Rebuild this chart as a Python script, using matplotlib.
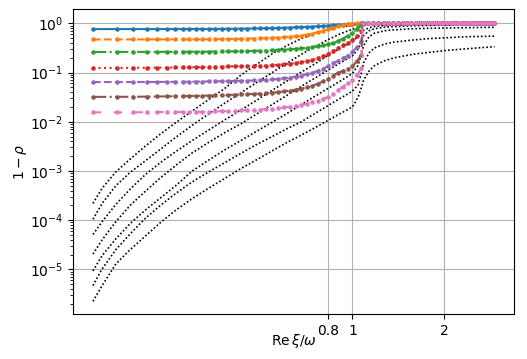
import matplotlib
matplotlib.use("Agg")
import matplotlib.pyplot as plt
from matplotlib.ticker import FixedLocator, FixedFormatter, NullLocator

# ---- data ----
# shared abscissa for the coloured series (before the jump to 1)
xi_col = [-0.77, -0.59, -0.48, -0.39, -0.32, -0.26, -0.21, -0.16, -0.12, -0.08, -0.04,
          0.00, 0.04, 0.08, 0.12, 0.16, 0.20, 0.24, 0.28, 0.32, 0.36, 0.40, 0.44, 0.48,
          0.52, 0.56, 0.60, 0.64, 0.68, 0.72, 0.76, 0.80, 0.84, 0.88, 0.92, 0.96, 1.00,
          1.04, 1.08]
# abscissa after the jump (all coloured series sit at 1 there)
xi_tail = [1.09, 1.14, 1.19, 1.24, 1.29, 1.34, 1.39, 1.44, 1.49, 1.54, 1.59, 1.64,
           1.69, 1.74, 1.79, 1.84, 1.89, 1.94, 1.99, 2.04, 2.09, 2.14, 2.19, 2.24,
           2.29, 2.34, 2.39, 2.44, 2.49, 2.54, 2.59, 2.64, 2.69, 2.74, 2.79]
rho_tail = [1.0, 1.0, 1.0, 1.0, 1.0, 1.0, 1.0, 1.0, 1.0, 1.0, 1.0, 1.0, 1.0, 1.0,
            1.0, 1.0, 1.0, 1.0, 1.0, 1.0, 1.0, 1.0, 1.0, 1.0, 1.0, 1.0, 1.0, 1.0,
            1.0, 1.0, 1.0, 1.0, 1.0, 1.0, 1.0]

blue = [0.764, 0.765, 0.765, 0.766, 0.766, 0.766, 0.767, 0.767, 0.767, 0.768, 0.768,
        0.768, 0.770, 0.772, 0.774, 0.776, 0.779, 0.782, 0.786, 0.790, 0.795, 0.800,
        0.806, 0.813, 0.820, 0.830, 0.840, 0.850, 0.860, 0.870, 0.885, 0.900, 0.915,
        0.930, 0.945, 0.960, 0.975, 0.990, 1.000]
orange = [0.470, 0.471, 0.471, 0.472, 0.472, 0.472, 0.473, 0.473, 0.473, 0.474, 0.474,
          0.475, 0.477, 0.479, 0.481, 0.483, 0.486, 0.489, 0.492, 0.496, 0.500, 0.507,
          0.515, 0.525, 0.537, 0.550, 0.565, 0.590, 0.620, 0.660, 0.700, 0.750, 0.810,
          0.870, 0.920, 0.960, 0.985, 0.995, 1.000]
green = [0.262, 0.262, 0.263, 0.263, 0.263, 0.264, 0.264, 0.264, 0.265, 0.265, 0.265,
         0.266, 0.267, 0.268, 0.269, 0.270, 0.272, 0.274, 0.276, 0.278, 0.280, 0.284,
         0.288, 0.293, 0.298, 0.304, 0.310, 0.318, 0.328, 0.340, 0.355, 0.375, 0.400,
         0.440, 0.490, 0.560, 0.640, 0.760, 0.920]
red = [0.124, 0.124, 0.125, 0.125, 0.126, 0.126, 0.127, 0.127, 0.128, 0.128, 0.129,
       0.130, 0.131, 0.132, 0.133, 0.134, 0.135, 0.136, 0.137, 0.138, 0.139, 0.141,
       0.144, 0.148, 0.152, 0.157, 0.163, 0.170, 0.180, 0.195, 0.215, 0.240, 0.275,
       0.320, 0.360, 0.400, 0.450, 0.550, 0.700]
purple = [0.0640, 0.0641, 0.0642, 0.0643, 0.0645, 0.0646, 0.0648, 0.0650, 0.0652,
          0.0654, 0.0657, 0.0660, 0.0660, 0.0665, 0.0670, 0.0675, 0.0680, 0.0685,
          0.0690, 0.0700, 0.0710, 0.0725, 0.0740, 0.0765, 0.0790, 0.0825, 0.0870,
          0.0920, 0.0990, 0.108, 0.120, 0.135, 0.155, 0.175, 0.195, 0.220, 0.260,
          0.330, 0.430]
brown = [0.0320, 0.0321, 0.0322, 0.0324, 0.0326, 0.0328, 0.0330, 0.0332, 0.0334,
         0.0336, 0.0338, 0.0340, 0.0343, 0.0346, 0.0350, 0.0354, 0.0358, 0.0363,
         0.0368, 0.0374, 0.0380, 0.0390, 0.0400, 0.0415, 0.0430, 0.0450, 0.0470,
         0.0500, 0.0540, 0.0590, 0.0660, 0.0750, 0.0870, 0.0990, 0.108, 0.118, 0.135,
         0.170, 0.230]
pink = [0.0155, 0.0155, 0.0156, 0.0156, 0.0157, 0.0157, 0.0158, 0.0158, 0.0159,
        0.0159, 0.0159, 0.0160, 0.0162, 0.0164, 0.0166, 0.0168, 0.0170, 0.0172,
        0.0174, 0.0177, 0.0180, 0.0184, 0.0189, 0.0195, 0.0202, 0.0210, 0.0220,
        0.0232, 0.0247, 0.0265, 0.0290, 0.0320, 0.0370, 0.0440, 0.0520, 0.0600,
        0.0700, 0.0900, 0.122]
coloured = [blue, orange, green, red, purple, brown, pink]

# shared abscissa for the black dotted curves
xi_blk = [-0.77, -0.7, -0.6, -0.5, -0.4, -0.3, -0.2, -0.1, 0.0, 0.1, 0.2, 0.3, 0.4,
          0.5, 0.6, 0.7, 0.8, 0.9, 1.0, 1.05, 1.08, 1.1, 1.15, 1.2, 1.3, 1.4, 1.6,
          1.8, 2.0, 2.2, 2.4, 2.6, 2.8]
blk1 = [2.188e-4, 4.467e-4, 9.55e-4, 1.738e-3, 3.162e-3, 5.623e-3, 9.77e-3, 1.660e-2,
        2.818e-2, 4.786e-2, 8.913e-2, 0.1479, 0.2399, 0.3548, 0.4898, 0.631, 0.7586,
        0.851, 0.912, 0.933, 0.955, 0.966, 0.977, 0.984, 0.989, 0.991, 0.993, 0.994,
        0.995, 0.995, 0.9966, 0.9966, 0.9977]
blk2 = [1.047e-4, 2.188e-4, 5.012e-4, 9.333e-4, 1.585e-3, 2.754e-3, 4.898e-3, 8.511e-3,
        1.445e-2, 2.399e-2, 3.890e-2, 6.310e-2, 0.1, 0.1549, 0.2344, 0.3388, 0.4677,
        0.6166, 0.7586, 0.822, 0.871, 0.902, 0.933, 0.951, 0.966, 0.973, 0.982, 0.985,
        0.987, 0.989, 0.990, 0.991, 0.991]
blk3 = [5.129e-5, 9.333e-5, 2.089e-4, 4.266e-4, 8.318e-4, 1.479e-3, 2.512e-3, 4.169e-3,
        6.761e-3, 1.096e-2, 1.738e-2, 2.754e-2, 4.365e-2, 6.761e-2, 0.1023, 0.1514,
        0.2239, 0.3162, 0.4365, 0.537, 0.6457, 0.7244, 0.8128, 0.861, 0.902, 0.923,
        0.944, 0.955, 0.962, 0.966, 0.970, 0.973, 0.975]
blk4 = [2.042e-5, 3.981e-5, 9.333e-5, 1.995e-4, 3.802e-4, 7.244e-4, 1.318e-3, 2.344e-3,
        3.802e-3, 6.026e-3, 9.12e-3, 1.445e-2, 2.239e-2, 3.467e-2, 5.248e-2, 7.762e-2,
        0.1122, 0.1585, 0.2188, 0.302, 0.4365, 0.5623, 0.7079, 0.7762, 0.8318, 0.861,
        0.891, 0.908, 0.920, 0.929, 0.935, 0.940, 0.944]
blk5 = [9.333e-6, 1.905e-5, 4.169e-5, 8.511e-5, 1.585e-4, 2.818e-4, 5.129e-4, 1.0e-3,
        1.660e-3, 2.692e-3, 4.169e-3, 6.457e-3, 9.772e-3, 1.479e-2, 2.239e-2, 3.311e-2,
        4.786e-2, 6.761e-2, 9.55e-2, 0.1413, 0.2399, 0.3548, 0.537, 0.631, 0.708, 0.741,
        0.776, 0.794, 0.804, 0.813, 0.820, 0.826, 0.832]
blk6 = [4.677e-6, 1.023e-5, 2.512e-5, 5.248e-5, 1.072e-4, 1.995e-4, 3.548e-4, 6.026e-4,
        9.55e-4, 1.479e-3, 2.291e-3, 3.467e-3, 5.012e-3, 7.244e-3, 1.0e-2, 1.479e-2,
        2.138e-2, 3.02e-2, 4.169e-2, 5.623e-2, 0.1, 0.1585, 0.2512, 0.3162, 0.3802,
        0.4169, 0.4571, 0.4898, 0.507, 0.525, 0.537, 0.543, 0.550]
blk7 = [2.239e-6, 4.677e-6, 1.288e-5, 2.512e-5, 4.677e-5, 8.913e-5, 1.622e-4, 2.754e-4,
        4.467e-4, 7.079e-4, 1.122e-3, 1.698e-3, 2.570e-3, 3.802e-3, 5.370e-3, 7.586e-3,
        1.072e-2, 1.479e-2, 1.995e-2, 3.162e-2, 5.012e-2, 7.079e-2, 0.1072, 0.138,
        0.1738, 0.1995, 0.2344, 0.257, 0.2786, 0.2951, 0.309, 0.3236, 0.334]
black_curves = [blk1, blk2, blk3, blk4, blk5, blk6, blk7]

x_ticks = [0.8, 1, 2]
x_tick_labels = ["0.8", "1", "2"]

# ---- styling ----
colours = ["C0", "C1", "C2", "C3", "C4", "C5", "C6"]
styles = ["-", "--", "-.", ":", "--", "-.", (0, (4, 6))]

fig = plt.figure(figsize=(5.27, 3.59), dpi=100)
ax = fig.add_axes([0.1391, 0.1245, 0.8368, 0.8496])

for yb in black_curves:
    ax.plot(xi_blk, yb, color="black", linestyle=(0, (1, 1.3)), linewidth=1.2, zorder=2)

for yc, c, ls in zip(coloured, colours, styles):
    ax.plot(xi_col + xi_tail, yc + rho_tail, color=c, linestyle=ls, marker=".",
            markersize=4.5, linewidth=1.5, zorder=3)

ax.set_yscale("log")
ax.set_xscale("asinh", linear_width=1.0)
ax.set_xlim(-0.928, 3.18)
ax.set_ylim(1.22e-6, 1.93)
ax.xaxis.set_major_locator(FixedLocator(x_ticks))
ax.xaxis.set_major_formatter(FixedFormatter(x_tick_labels))
ax.xaxis.set_minor_locator(NullLocator())
ax.grid(True, which="major", color="#b0b0b0", linewidth=0.8)
ax.set_axisbelow(True)

ax.set_xlabel(r"Re$\,\xi/\omega$", fontsize=10, labelpad=-4)
ax.set_ylabel(r"$1-\rho$", fontsize=10, labelpad=1)

fig.savefig("out.png", dpi=100)
